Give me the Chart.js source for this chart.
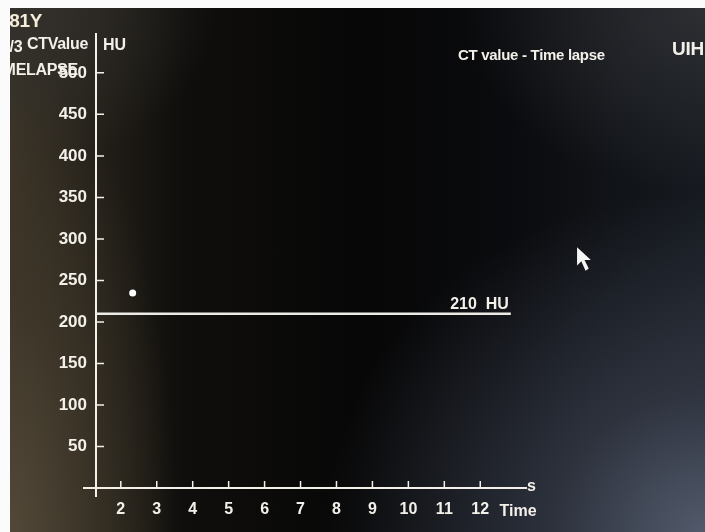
<!DOCTYPE html>
<html><head><meta charset="utf-8">
<script src="https://cdn.jsdelivr.net/npm/chart.js@4"></script>
<style>
html,body{margin:0;padding:0;width:705px;height:532px;overflow:hidden;background:#fff;position:relative;}
#bg{position:absolute;left:10px;top:8px;right:0;bottom:0;
 background:
  radial-gradient(ellipse 55% 65% at 100% 100%, rgba(82,90,107,1) 0%, rgba(58,64,78,0.7) 40%, rgba(30,34,42,0) 100%),
  radial-gradient(ellipse 24% 90% at 0% 100%, rgba(82,72,56,1) 0%, rgba(64,56,42,0.7) 50%, rgba(50,44,34,0) 100%),
  radial-gradient(ellipse 30% 30% at 0% 0%, rgba(50,48,44,1) 0%, rgba(50,48,44,0) 100%),
  radial-gradient(ellipse 35% 35% at 100% 0%, rgba(44,46,50,1) 0%, rgba(44,46,50,0) 100%),
  linear-gradient(to right, #3a3326 0%, #2a251d 8%, #0f0e0c 25%, #070707 50%, #0a0b0e 72%, #161a20 100%);}
#wrap{position:absolute;left:0;top:0;width:705px;height:532px;z-index:2;}
.t{position:absolute;color:#f3f0ea;font:bold 16px "Liberation Sans",Arial,sans-serif;white-space:nowrap;line-height:1;z-index:3;letter-spacing:-0.3px;}
.strip{position:absolute;background:#fbfbfb;z-index:5;}
#cursor{position:absolute;left:576px;top:246px;z-index:3;}
</style></head>
<body>
<div id="bg"></div>
<div id="wrap"><canvas id="c" width="705" height="532"></canvas></div>
<div class="t" style="left:-1px;top:11px;font-size:19px;color:#f5ecd8;">181Y</div>
<div class="t" style="left:1px;top:39px;font-size:16px;">2/3</div>
<div class="t" style="left:27px;top:36px;font-size:16px;">CTValue</div>
<div class="t" style="left:-11px;top:62px;font-size:16px;">TIMELAPSE</div>
<div class="t" style="left:458px;top:47px;font-size:15px;">CT value - Time lapse</div>
<div class="t" style="left:672px;top:39px;font-size:19px;">UIH</div>
<svg id="cursor" width="17" height="26" viewBox="0 0 16 24"><polygon points="1,1 1,18 5,14 9,23 12,21 8,13 14,13" fill="#f6f6f6"/></svg>
<div class="strip" style="left:0;top:0;width:10px;height:532px;"></div>
<div class="strip" style="left:0;top:0;width:705px;height:8px;"></div>
<script>
// ---- data ----
const xTickValues = [2, 3, 4, 5, 6, 7, 8, 9, 10, 11, 12];
const yTickValues = [50, 100, 150, 200, 250, 300, 350, 400, 450, 500];
const pointTimes = [2.33];
const pointValues = [235];
const thresholdValue = 210;
const thresholdLabel = '210  HU';
const thresholdTimes = [1.31, 12.85];
const xAxisTitle = 'Time';
const xAxisUnit = 's';
const yAxisUnit = 'HU';

const FG = '#f3f0ea';
const FONT = '"Liberation Sans", Arial, sans-serif';

const axesPlugin = {
  id: 'axesDraw',
  afterDraw(chart) {
    const {ctx, chartArea: a, scales: {x, y}} = chart;
    const x0 = a.left;
    const y0 = y.getPixelForValue(0);
    ctx.save();
    ctx.strokeStyle = FG;
    ctx.lineWidth = 2;
    ctx.beginPath();
    ctx.moveTo(x0, a.top); ctx.lineTo(x0, y0 + 9);
    ctx.moveTo(x0 - 13, y0); ctx.lineTo(a.right, y0);
    ctx.stroke();
    ctx.lineWidth = 1.5;
    ctx.beginPath();
    yTickValues.forEach(v => { const p = y.getPixelForValue(v); ctx.moveTo(x0, p); ctx.lineTo(x0 + 8, p); });
    xTickValues.forEach(v => { const p = x.getPixelForValue(v); ctx.moveTo(p, y0); ctx.lineTo(p, y0 - 7); });
    ctx.stroke();
    ctx.fillStyle = FG;
    ctx.font = 'bold 16px ' + FONT;
    ctx.textBaseline = 'middle';
    ctx.textAlign = 'left';
    ctx.fillText(yAxisUnit, x0 + 7, a.top + 13);
    ctx.fillText(xAxisUnit, a.right, y0 - 1);
    ctx.textAlign = 'center';
    ctx.fillText(xAxisTitle, a.right - 9, y0 + 24);
    ctx.textAlign = 'right';
    const lx = x.getPixelForValue(thresholdTimes[1]);
    const ly = y.getPixelForValue(thresholdValue);
    ctx.fillText(thresholdLabel, lx - 2, ly - 9);
    ctx.restore();
  }
};

new Chart(document.getElementById('c'), {
  type: 'scatter',
  data: {
    datasets: [
      {
        data: pointTimes.map((t, i) => ({x: t, y: pointValues[i]})),
        backgroundColor: '#ffffff', borderWidth: 0, pointRadius: 3.5
      },
      {
        type: 'line',
        data: thresholdTimes.map(t => ({x: t, y: thresholdValue})),
        borderColor: '#ecebe6', borderWidth: 2.5, pointRadius: 0, fill: false
      }
    ]
  },
  options: {
    responsive: false, animation: false,
    layout: {padding: {left: 0, right: 178, top: 33, bottom: 0}},
    plugins: {legend: {display: false}, tooltip: {enabled: false}, title: {display: false}},
    scales: {
      x: {
        type: 'linear', min: 1.31, max: 13.3, position: 'bottom',
        grid: {display: false, drawTicks: false}, border: {display: false},
        ticks: {color: FG, font: {family: FONT, size: 16, weight: 'bold'}, padding: 12, autoSkip: false, maxRotation: 0},
        afterBuildTicks: s => { s.ticks = xTickValues.map(v => ({value: v})); },
        afterFit: s => { s.height = 44; }
      },
      y: {
        type: 'linear', min: 0, max: 548, position: 'left',
        grid: {display: false, drawTicks: false}, border: {display: false},
        ticks: {color: FG, font: {family: FONT, size: 17, weight: 'bold'}, padding: 9, autoSkip: false},
        afterBuildTicks: s => { s.ticks = yTickValues.map(v => ({value: v})); },
        afterFit: s => { s.width = 96; }
      }
    }
  },
  plugins: [axesPlugin]
});
</script>
</body></html>
